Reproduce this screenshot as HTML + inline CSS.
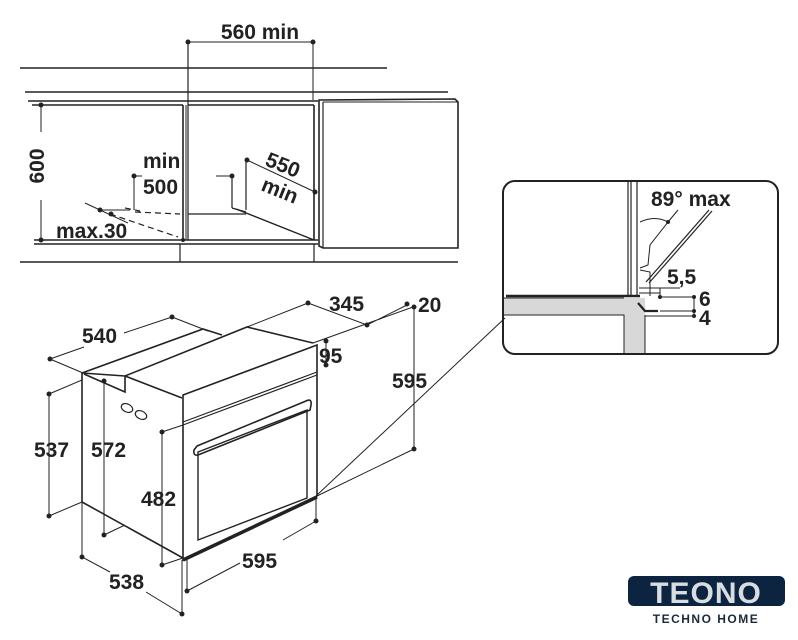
<!DOCTYPE html>
<html><head><meta charset="utf-8"><style>
html,body{margin:0;padding:0;background:#fff;}
svg{display:block}
text{font-family:"Liberation Sans",Arial,sans-serif;font-weight:bold;fill:#222;}
</style></head><body>
<svg width="798" height="640" viewBox="0 0 798 640" xmlns="http://www.w3.org/2000/svg">
<g stroke="#222" stroke-width="1.6" fill="none">
<line x1="188" y1="42" x2="313" y2="42" stroke-width="1"/>
<line x1="188" y1="42" x2="188" y2="240" stroke-width="1.2"/>
<line x1="313" y1="42" x2="313" y2="100" stroke-width="1"/>
<line x1="20" y1="68" x2="387" y2="68"/>
<line x1="25" y1="92" x2="448" y2="92"/>
<line x1="28" y1="101" x2="318" y2="101"/>
<line x1="32" y1="105" x2="183" y2="105"/>
<line x1="183" y1="105" x2="183" y2="240"/>
<line x1="186" y1="105" x2="186" y2="240" stroke-width="1"/>
<line x1="188" y1="105" x2="314" y2="105"/>
<line x1="314" y1="105" x2="314" y2="240"/>
<path d="M319 100 L455 99 L458 102 L458 248 L323 248 L319 246 Z"/>
<line x1="323" y1="102" x2="323" y2="248" stroke-width="1.2"/>
<line x1="323" y1="102" x2="457" y2="102" stroke-width="1"/>
<line x1="34" y1="240" x2="318" y2="240"/>
<line x1="34" y1="244" x2="318" y2="244"/>
<line x1="180" y1="244" x2="180" y2="262" stroke-width="1.2"/>
<line x1="314" y1="244" x2="314" y2="262" stroke-width="1.2"/>
<line x1="20" y1="262" x2="458" y2="262"/>
<line x1="41" y1="105" x2="41" y2="132" stroke-width="1"/>
<line x1="41" y1="200" x2="41" y2="240" stroke-width="1"/>
<line x1="134" y1="176" x2="134" y2="210" stroke-width="1"/>
<line x1="134" y1="176" x2="142" y2="176" stroke-width="1"/>
<line x1="85" y1="203" x2="128" y2="223" stroke-width="1"/>
<line x1="100" y1="210" x2="130" y2="210" stroke-width="1"/>
<path d="M125 208 L140 211 M135 212 L180 214" stroke-dasharray="6,4" stroke-width="1.2"/>
<path d="M110 214 L178 237" stroke-dasharray="6,4" stroke-width="1.2"/>
<line x1="216" y1="176" x2="232" y2="176" stroke-width="1"/>
<line x1="232" y1="176" x2="232" y2="208" stroke-width="1.2"/>
<line x1="232" y1="208" x2="246" y2="212" stroke-width="1.2"/>
<line x1="188" y1="214" x2="246" y2="214" stroke-width="1.2"/>
<line x1="246" y1="160" x2="246" y2="210" stroke-width="1.2"/>
<line x1="236" y1="209" x2="314" y2="240" stroke-width="1.4"/>
<line x1="247" y1="160" x2="315" y2="192" stroke-width="1"/>
<path d="M82 373 L203 329 L222 335 M125 376 L247 327 L313 343 M82 373 L125 376 M125 376 L125 392 L84 374 M125 376 L182 398"/>
<line x1="82" y1="373" x2="82" y2="502"/>
<line x1="82" y1="502" x2="183" y2="558"/>
<path d="M183 395 L317 345 L317 496 L183 560 Z"/>
<path d="M183 422 L317 372 M183 425 L317 375" stroke-width="1.2"/>
<path d="M198 452 L307 410 L307 498 L198 540 Z" stroke-width="1.4"/>
<path d="M197 446 L306 401 Q312 398 311 405 L310 410 L198 455 Q193 456 194 450 Z" stroke-width="1.6"/>
<path d="M183 560 L317 497" stroke-width="3.5"/>
<ellipse cx="127" cy="408" rx="6" ry="4" transform="rotate(25 127 408)" stroke-width="1.2"/>
<ellipse cx="141" cy="415" rx="6" ry="4" transform="rotate(25 141 415)" stroke-width="1.2"/>
<g stroke-width="1">
<path d="M50 359 L84 347 M124 333 L172 317 M50 359 L83 373 M172 317 L208 331"/>
<path d="M247 327 L308 303 M308 303 L367 325 L407 305 M313 343 L413 307"/>
<line x1="414" y1="307" x2="414" y2="449"/>
<line x1="414" y1="449" x2="317" y2="496"/>
<path d="M326 341 L326 365"/>
<path d="M49 394 L49 516 M49 394 L82 380 M49 516 L82 502"/>
<path d="M104 381 L104 535 M104 535 L125 525"/>
<path d="M162 432 L162 565 M162 432 L183 425 M162 565 L183 558"/>
<path d="M82 503 L82 557 L110 572 M146 592 L182 614 L182 560"/>
<path d="M187 591 L240 563 M283 540 L316 521 M187 591 L187 560 M316 521 L316 496"/>
<line x1="316" y1="496" x2="505" y2="318"/>
</g>
</g>
<g fill="#222">
<circle cx="188" cy="42" r="2.5"/><circle cx="313" cy="42" r="2.5"/>
<circle cx="41" cy="105" r="2.5"/><circle cx="41" cy="240" r="2.5"/>
<circle cx="134" cy="176" r="2.5"/><circle cx="100" cy="210" r="2.5"/><circle cx="111" cy="214" r="2.5"/>
<circle cx="183" cy="240" r="2"/><circle cx="232" cy="176" r="2.5"/><circle cx="247" cy="160" r="2.5"/><circle cx="315" cy="192" r="2.5"/>
<circle cx="50" cy="359" r="2.5"/><circle cx="172" cy="317" r="2.5"/><circle cx="308" cy="303" r="2.5"/><circle cx="367" cy="325" r="2.5"/>
<circle cx="407" cy="304" r="2.5"/><circle cx="414" cy="307" r="2.5"/><circle cx="414" cy="449" r="2.5"/>
<circle cx="326" cy="341" r="2.5"/><circle cx="326" cy="365" r="2.5"/>
<circle cx="49" cy="394" r="2.5"/><circle cx="49" cy="516" r="2.5"/>
<circle cx="104" cy="381" r="2.5"/><circle cx="104" cy="535" r="2.5"/>
<circle cx="162" cy="432" r="2.5"/><circle cx="162" cy="565" r="2.5"/>
<circle cx="82" cy="557" r="2.5"/><circle cx="182" cy="614" r="2.5"/>
<circle cx="187" cy="591" r="2.5"/><circle cx="316" cy="521" r="2.5"/>
</g>
<g stroke="#222" fill="none">
<rect x="503" y="181" width="275" height="173" rx="12" stroke-width="2"/>
<rect x="504" y="298" width="135" height="17" fill="#d8d8d8" stroke="none"/>
<rect x="624" y="298" width="21" height="55" fill="#d8d8d8" stroke="none"/>
<path d="M504 315 L624 315 L624 353 M645 315 L645 353 M504 298 L624 298" stroke-width="1"/>
<line x1="506" y1="296" x2="640" y2="296" stroke-width="2.5"/>
<path d="M628 181 L628 296 M631 181 L631 296 M637 181 L637 296" stroke-width="1.2"/>
<path d="M646 282 L709 210 M649 283 L712 211" stroke-width="1.2"/>
<path d="M640 222 Q655 215 668 222 L650 245 L648 265 L640 268" stroke-width="1"/>
<path d="M640 270 L650 272 L650 296" stroke-width="1"/>
<path d="M639 288 L660 288 L660 293 L639 293" stroke-width="1"/>
<path d="M638 303 L645 311 L658 311" stroke-width="2.2"/>
<path d="M660 288 L680 288 M660 297 L694 297 M660 311 L694 311 M645 316 L694 316" stroke-width="1"/>
<path d="M694 297 L694 316 M660 288 L660 297" stroke-width="1"/>
<line x1="668" y1="222" x2="678" y2="210" stroke-width="1"/>
</g>
<g fill="#222">
<circle cx="694" cy="297" r="2"/><circle cx="694" cy="311" r="2"/><circle cx="694" cy="316" r="2"/><circle cx="660" cy="297" r="2"/><circle cx="668" cy="222" r="2"/>
</g>
<text x="260" y="39" font-size="21" text-anchor="middle">560 min</text>
<text x="37" y="173" font-size="21" text-anchor="middle" transform="rotate(-90 37 166)">600</text>
<text x="143" y="168" font-size="21">min</text>
<text x="143" y="194" font-size="21">500</text>
<text x="56" y="238" font-size="21">max.30</text>
<text x="264" y="165" font-size="21" transform="rotate(22 264 165)">550</text>
<text x="260" y="190" font-size="21" transform="rotate(22 260 190)">min</text>
<text x="82" y="343" font-size="21">540</text>
<text x="329" y="311" font-size="21">345</text>
<text x="418" y="312" font-size="21">20</text>
<text x="319" y="363" font-size="21">95</text>
<text x="392" y="388" font-size="21">595</text>
<text x="34" y="457" font-size="21">537</text>
<text x="91" y="457" font-size="21">572</text>
<text x="141" y="506" font-size="21">482</text>
<text x="242" y="568" font-size="21">595</text>
<text x="109" y="589" font-size="21">538</text>
<text x="651" y="206" font-size="21">89° max</text>
<text x="667" y="284" font-size="21">5,5</text>
<text x="699" y="306" font-size="21">6</text>
<text x="699" y="325" font-size="21">4</text>
<rect x="628" y="576" width="157" height="30" rx="6" fill="#0d2440"/>
<text x="706" y="603" font-size="30" text-anchor="middle" style="fill:#d8dde2;letter-spacing:1px">TEONO</text>
<text x="706" y="623" font-size="12" text-anchor="middle" style="fill:#1a2a3a;letter-spacing:1.5px">TECHNO HOME</text>
</svg>
</body></html>
